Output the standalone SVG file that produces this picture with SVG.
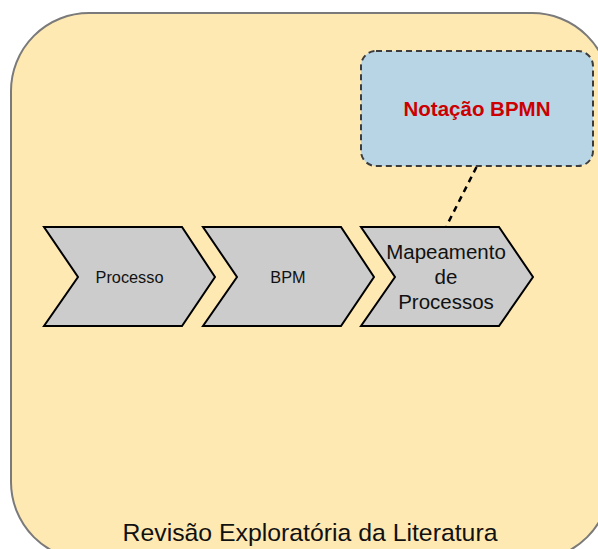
<svg xmlns="http://www.w3.org/2000/svg" width="598" height="549" viewBox="0 0 598 549">
  <style>
    .container { fill: #ffe9b3; stroke: #7a7a7a; stroke-width: 2; }
    .chevron { fill: #cccccc; stroke: #000000; stroke-width: 2; stroke-linejoin: miter; }
    .label { font-family: "Liberation Sans", Arial, sans-serif; fill: #111111; text-anchor: middle; }
    .note { fill: #b8d5e6; stroke: #3c3c3c; stroke-width: 2; stroke-dasharray: 6 4; }
    .note-text { font-family: "Liberation Sans", Arial, sans-serif; font-weight: bold; font-size: 20.5px; fill: #cc0000; text-anchor: middle; }
    .link { fill: none; stroke: #000000; stroke-width: 2.5; stroke-dasharray: 6 5; }
  </style>

  <!-- outer container -->
  <g id="revisao">
    <rect class="container" x="11" y="13" width="599" height="547" rx="78" ry="78"/>
    <text class="label" x="310" y="541" font-size="24.8">Revisão Exploratória da Literatura</text>
  </g>

  <!-- connectors -->
  <g id="connectors">
    <line class="link" x1="476.5" y1="167" x2="446.5" y2="226"/>
  </g>

  <!-- annotation box -->
  <g id="notacao-bpmn">
    <rect class="note" x="361" y="51" width="232" height="115" rx="15" ry="15"/>
    <text class="note-text" x="477" y="116">Notação BPMN</text>
  </g>

  <!-- process chevrons -->
  <g id="processo">
    <polygon class="chevron" points="44,227 182,227 215,277 182,326 44,326 78,277"/>
    <text class="label" x="129.5" y="283" font-size="16.3">Processo</text>
  </g>

  <g id="bpm">
    <polygon class="chevron" points="203,227 341,227 374,277 341,326 203,326 237,277"/>
    <text class="label" x="288" y="283" font-size="16.3">BPM</text>
  </g>

  <g id="mapeamento">
    <polygon class="chevron" points="361,227 499,227 533,277 499,326 361,326 395,277"/>
    <text class="label" x="446" y="259" font-size="20.5">Mapeamento</text>
    <text class="label" x="446" y="284" font-size="20.5">de</text>
    <text class="label" x="446" y="309" font-size="20.5">Processos</text>
  </g>
</svg>
